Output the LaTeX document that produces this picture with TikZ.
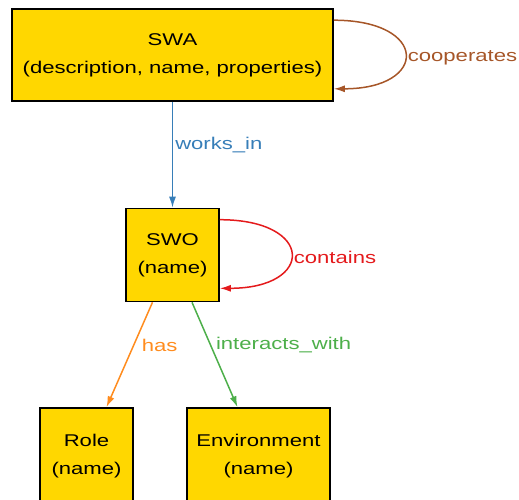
\documentclass[tikz,border=0pt]{standalone}
\usepackage{fontspec}
\setmainfont{Liberation Sans}[FakeStretch=1.3]
\usetikzlibrary{arrows.meta}

\definecolor{boxgold}{RGB}{255,215,0}
\definecolor{coopcol}{RGB}{166,86,40}
\definecolor{workcol}{RGB}{55,126,184}
\definecolor{contcol}{RGB}{228,26,28}
\definecolor{hascol}{RGB}{255,140,30}
\definecolor{intcol}{RGB}{77,175,74}

\begin{document}
\begin{tikzpicture}[x=1pt, y=-1pt,
    box/.style={draw=black, line width=1.6pt, fill=boxgold, align=center,
        inner sep=0pt, font=\fontsize{17}{28}\selectfont},
    rel/.style={line width=1.5pt, -{Latex[length=11pt,width=7pt]}},
    lbl/.style={font=\fontsize{17}{20}\selectfont, inner sep=2pt, yshift=-3pt}]
    \useasboundingbox (0,0) rectangle (519,499);

    % Boxes
    \node[box, minimum width=321pt, minimum height=92pt] (swa) at (172.5,55)
        {SWA\\(description, name, properties)};
    \node[box, minimum width=93pt, minimum height=93pt] (swo) at (172.5,255)
        {SWO\\(name)};
    \node[box, minimum width=93pt, minimum height=96pt] (role) at (86.5,456)
        {Role\\(name)};
    \node[box, minimum width=143pt, minimum height=96pt] (env) at (258.5,456)
        {Environment\\(name)};

    % Self loops
    \draw[rel, coopcol] ([yshift=-12pt]swa.north east)
        .. controls +(95,0) and +(95,0) .. ([yshift=13pt]swa.south east)
        node[pos=0.5, right, lbl] {cooperates};
    \draw[rel, contcol] ([yshift=-12pt]swo.north east)
        .. controls +(95,0) and +(95,0) .. ([yshift=14pt]swo.south east)
        node[pos=0.5, right, lbl] {contains};

    % Relations
    \draw[rel, workcol] (swa) -- (swo)
        node[pos=0.38, right, lbl] {works\_in};
    \draw[rel, hascol] ([xshift=-20pt]swo.south) -- ([xshift=20pt]role.north)
        node[pos=0.38, right, lbl, xshift=4pt] {has};
    \draw[rel, intcol] ([xshift=19.5pt]swo.south) -- ([xshift=-21pt]env.north)
        node[pos=0.38, right, lbl, xshift=4pt] {interacts\_with};
\end{tikzpicture}
\end{document}
